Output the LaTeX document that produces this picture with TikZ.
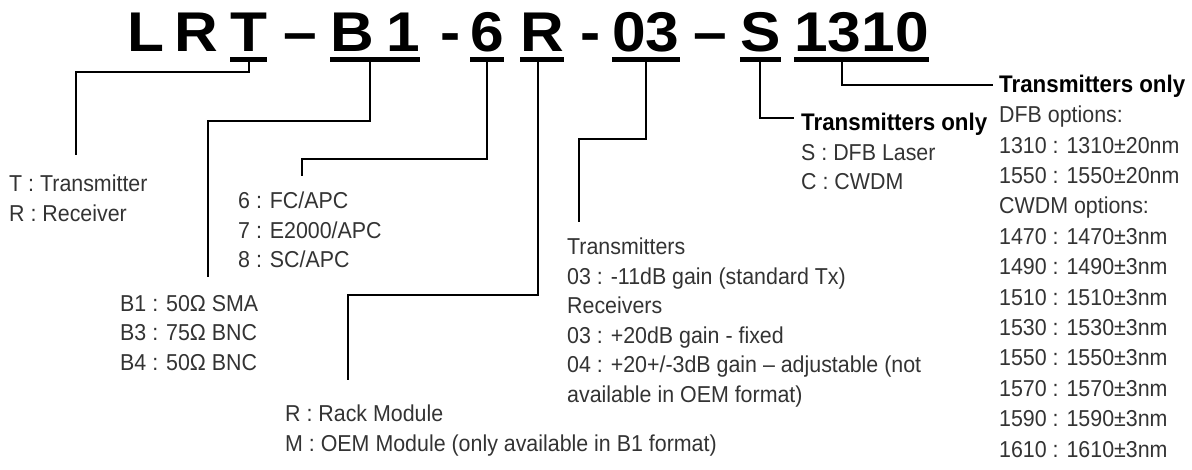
\documentclass[tikz,border=0pt]{standalone}
\usepackage{fontspec}
\setmainfont{Liberation Sans}[FakeStretch=0.93]
\newfontfamily\codefont{Liberation Sans}[FakeStretch=1.08]
\usetikzlibrary{positioning, calc}

\begin{document}
\begin{tikzpicture}[x=1pt, y=-1pt,
  code/.style={inner sep=0pt, anchor=base west, font=\codefont\bfseries\fontsize{56}{56}\selectfont},
  uline/.style={line width=5pt},
  conn/.style={line width=2pt},
  lbl/.style={inner sep=0pt, anchor=north west, align=left, text=black!80, font=\fontsize{23}{29.5}\selectfont},
  head/.style={inner sep=0pt, anchor=north west, font=\bfseries\fontsize{24}{29.5}\selectfont}
]
\useasboundingbox (0,0) rectangle (1192,470);
% part number
\node[code] (cL) at (127,52) {L};
\node[code] (cR) at (174,52) {R};
\node[code] (cT) at (230,52) {T};
\node[code] (d1) at (283,52) {–};
\node[code] (cB) at (330,52) {B};
\node[code] (c1) at (386,52) {1};
\node[code] (d2) at (440,52) {-};
\node[code] (c6) at (470,52) {6};
\node[code] (cR2) at (520,52) {R};
\node[code] (d3) at (580,52) {-};
\node[code] (c03) at (612,52) {03};
\node[code] (d4) at (693,52) {–};
\node[code] (cS) at (740,52) {S};
\node[code] (c1310) at (794,52) {1310};
\foreach \n in {cT, c6, cR2, c03, cS, c1310}
  \draw[uline] ([yshift=-8pt]\n.base west) -- ([yshift=-8pt]\n.base east);
\draw[uline] ([yshift=-8pt]cB.base west) -- ([yshift=-8pt]c1.base east);
% option lists
\node[lbl] (lblT) at (9,175) {T : Transmitter\\R : Receiver};
\node[lbl] (lbl6) at (238,192) {6 : FC/APC\\7 : E2000/APC\\8 : SC/APC};
\node[lbl] (lblB) at (120,295) {B1 : 50Ω SMA\\B3 : 75Ω BNC\\B4 : 50Ω BNC};
\node[lbl] (lblR) at (285,405) {R : Rack Module\\M : OEM Module (only available in B1 format)};
\node[lbl] (lbl03) at (567,238) {Transmitters\\03 : -11dB gain (standard Tx)\\Receivers\\03 : +20dB gain - fixed\\04 : +20+/-3dB gain – adjustable (not\\available in OEM format)};
\node[head] (hdS) at (801,113) {Transmitters only};
\node[lbl, below=13.3pt of hdS.base west, anchor=north west] (lblS) {S : DFB Laser\\C : CWDM};
\node[head] (hdW) at (999,75) {Transmitters only};
\node[lbl, below=13.3pt of hdW.base west, anchor=north west, font=\fontsize{23}{30.4}\selectfont] (lblW)
  {DFB options:\\1310 : 1310±20nm\\1550 : 1550±20nm\\CWDM options:\\1470 : 1470±3nm\\1490 : 1490±3nm\\1510 : 1510±3nm\\1530 : 1530±3nm\\1550 : 1550±3nm\\1570 : 1570±3nm\\1590 : 1590±3nm\\1610 : 1610±3nm};
% connectors
\coordinate (kT) at (76,72);
\coordinate (kB) at (208,121);
\coordinate (k6) at (302,159);
\coordinate (kR) at (348,295);
\coordinate (k03) at (579,139);
\draw[conn] ([yshift=-8pt]cT.base) |- (kT) -- ([yshift=20pt]kT |- lblT.north);
\draw[conn] ($(cB.base west)!0.5!(c1.base east)+(-5,8)$) |- (kB) -- ([yshift=18pt]kB |- lblB.north);
\draw[conn] ([yshift=-8pt]c6.base) |- (k6) -- ([yshift=16pt]k6 |- lbl6.north);
\draw[conn] ([xshift=-4pt,yshift=-8pt]cR2.base) |- (kR) -- ([yshift=25pt]kR |- lblR.north);
\draw[conn] ([yshift=-8pt]c03.base) |- (k03) -- ([yshift=16pt]k03 |- lbl03.north);
\draw[conn] ([yshift=-8pt]cS.base) |- ([xshift=-7pt,yshift=-5pt]hdS.north west);
\draw[conn] ([xshift=-19pt,yshift=-8pt]c1310.base) |- ([xshift=-6pt,yshift=-10pt]hdW.north west);
\end{tikzpicture}
\end{document}
